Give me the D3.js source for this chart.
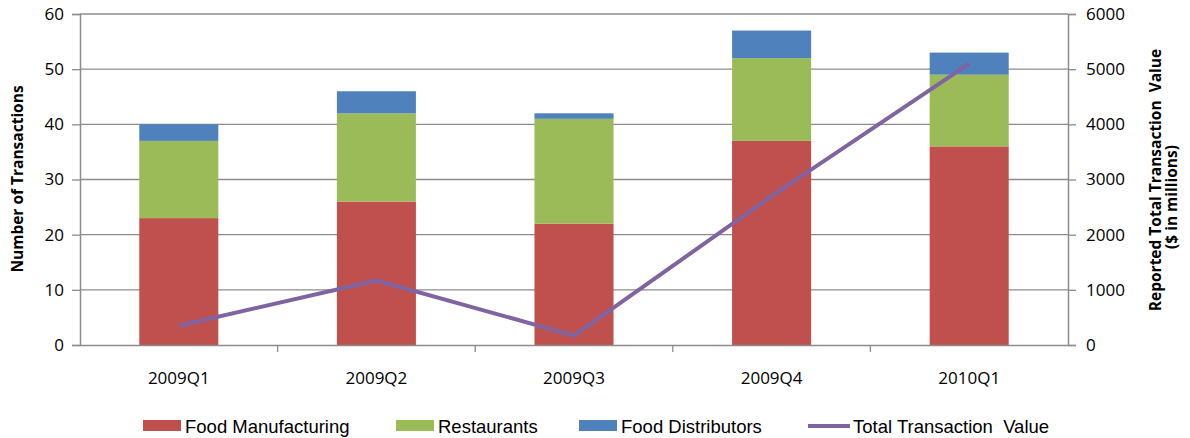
<!DOCTYPE html>
<html><head><meta charset="utf-8">
<script src="https://cdn.jsdelivr.net/npm/d3@7"></script>
<style>body{margin:0;background:#fff}</style>
</head><body>
<svg id="c" width="1190" height="438"></svg>
<script>
const categories = ["2009Q1","2009Q2","2009Q3","2009Q4","2010Q1"];
const foodManufacturing = [23,26,22,37,36];
const restaurants = [14,16,19,15,13];
const foodDistributors = [3,4,1,5,4];
const totalValue = [350,1170,170,2700,5100];
const leftTicks = [0,10,20,30,40,50,60];
const rightTicks = [0,1000,2000,3000,4000,5000,6000];
const seriesNames = ["Food Manufacturing","Restaurants","Food Distributors","Total Transaction  Value"];
const colors = ["#C0504D","#9BBB59","#4F81BD","#8064A2"];

const svg = d3.select("#c");
const L=80, R=1068, T=14, B=345;
const x = d3.scaleBand().domain(categories).range([L,R]).paddingInner(0.6).paddingOuter(0.3);
const xb = d3.scaleBand().domain(categories).range([L,R]);
const y = d3.scaleLinear().domain([0,60]).range([B,T]);
const y2 = d3.scaleLinear().domain([0,6000]).range([B,T]);
const font = "'Open Sans', sans-serif";
const gridColor = "#8c8c8c";

// gridlines
svg.append("g").selectAll("line").data(leftTicks.filter(d=>d>0)).join("line")
  .attr("x1",L).attr("x2",R).attr("y1",d=>y(d)).attr("y2",d=>y(d))
  .attr("stroke",gridColor).attr("stroke-width",1.3);

// stacked bars
const rows = categories.map((c,i)=>({cat:c, fm:foodManufacturing[i], r:restaurants[i], fd:foodDistributors[i]}));
const stack = d3.stack().keys(["fm","r","fd"])(rows);
svg.append("g").selectAll("g").data(stack).join("g").attr("fill",(d,i)=>colors[i])
  .selectAll("rect").data(d=>d).join("rect")
  .attr("x",d=>x(d.data.cat)).attr("width",x.bandwidth())
  .attr("y",d=>y(d[1])).attr("height",d=>y(d[0])-y(d[1]));

// axes
const gl = svg.append("g").attr("transform",`translate(${L},0)`)
  .call(d3.axisLeft(y).tickValues(leftTicks).tickSize(8).tickPadding(8));
const gr = svg.append("g").attr("transform",`translate(${R},0)`)
  .call(d3.axisRight(y2).tickValues(rightTicks).tickFormat(d3.format("d")).tickSize(8).tickPadding(10));
const gx = svg.append("g").attr("transform",`translate(0,${B})`)
  .call(d3.axisBottom(xb).tickSize(0).tickPadding(27));
// x tick marks at band boundaries
svg.append("g").selectAll("line").data(categories.slice(1)).join("line")
  .attr("x1",d=>xb(d)).attr("x2",d=>xb(d)).attr("y1",B).attr("y2",B+7)
  .attr("stroke",gridColor).attr("stroke-width",1.3);
[gl,gr,gx].forEach(g=>{
  g.selectAll(".domain").attr("stroke",gridColor).attr("stroke-width",1.5);
  g.selectAll(".tick line").attr("stroke",gridColor).attr("stroke-width",1.3);
  g.selectAll("text").attr("font-family",font).attr("font-size",17).attr("fill","#000");
});

// line
const line = d3.line().x((d,i)=>xb(categories[i])+xb.bandwidth()/2).y(d=>y2(d));
svg.append("path").datum(totalValue).attr("d",line)
  .attr("fill","none").attr("stroke",colors[3]).attr("stroke-width",4).attr("stroke-linejoin","round");

// axis titles
svg.append("text").attr("transform","translate(23,179) rotate(-90)").attr("text-anchor","middle")
  .attr("font-family",font).attr("font-size",15.5).attr("font-weight","bold").text("Number of Transactions");
svg.append("text").attr("transform","translate(1161,180) rotate(-90)").attr("text-anchor","middle")
  .attr("font-family",font).attr("font-size",15.5).attr("font-weight","bold").attr("xml:space","preserve").text("Reported Total Transaction  Value");
svg.append("text").attr("transform","translate(1177,197) rotate(-90)").attr("text-anchor","middle")
  .attr("font-family",font).attr("font-size",15.5).attr("font-weight","bold").text("($ in millions)");

// legend
const legX = [143,396,579,808];
const lg = svg.append("g");
seriesNames.forEach((n,i)=>{
  if(i<3) lg.append("rect").attr("x",legX[i]).attr("y",420).attr("width",38).attr("height",11).attr("fill",colors[i]);
  else lg.append("line").attr("x1",legX[i]).attr("x2",legX[i]+42).attr("y1",426).attr("y2",426).attr("stroke",colors[i]).attr("stroke-width",4);
  lg.append("text").attr("x",legX[i]+(i<3?42:45)).attr("y",433).attr("font-family","'Liberation Sans Narrow', 'Liberation Sans', sans-serif")
    .attr("font-size",18.5).attr("xml:space","preserve").text(n);
});
</script>
</body></html>
